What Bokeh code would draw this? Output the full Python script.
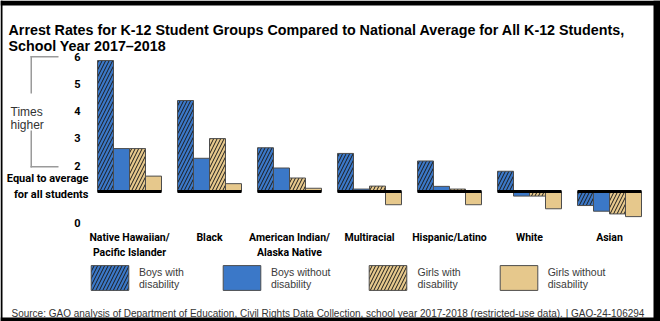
from bokeh.plotting import figure
from bokeh.models import (Range1d, Label, BoxAnnotation, Legend, LegendItem, ColumnDataSource)
from bokeh.core.properties import value
from bokeh.embed import file_html
from bokeh.resources import INLINE

# ---------------- data ----------------
title_lines = ["Arrest Rates for K-12 Student Groups Compared to National Average for All K-12 Students,",
               "School Year 2017\u20132018"]
categories = ["Native Hawaiian/\nPacific Islander", "Black", "American Indian/\nAlaska Native",
              "Multiracial", "Hispanic/Latino", "White", "Asian"]
series_names = ["Boys with\ndisability", "Boys without\ndisability",
                "Girls with\ndisability", "Girls without\ndisability"]
boys_with = [5.85, 4.37, 2.62, 2.41, 2.13, 1.75, 0.48]
boys_without = [2.59, 2.23, 1.87, 1.09, 1.19, 0.83, 0.27]
girls_with = [2.59, 2.96, 1.50, 1.20, 1.09, 0.83, 0.17]
girls_without = [1.57, 1.29, 1.12, 0.51, 0.51, 0.36, 0.07]
baseline = 1.0
y_ticks = [0, 1, 2, 3, 4, 5, 6]
y_tick_labels = ["0", "Equal to average\nfor all students", "2", "3", "4", "5", "6"]
bracket_label = ["Times", "higher"]
source_text = ("Source: GAO analysis of Department of Education, Civil Rights Data Collection, "
               "school year 2017-2018 (restricted-use data).  |  GAO-24-106294")

# ---------------- layout / style ----------------
W, H = 660, 321
PX_PER_UNIT, BASE_PX = 27.0, 191.0
GROUP_PITCH, FIRST_CENTER = 80.0, 129.0
BAR_W = 16.0 / GROUP_PITCH
BLUE, TAN = "#3b78c8", "#e6c88c"
EDGE = "#4d4d4d"
SANS = "Liberation Sans"
BOLDCOND = "Roboto"


def data_x(px):
    return (px - FIRST_CENTER) / GROUP_PITCH


def data_y(py):
    return baseline + (BASE_PX - py) / PX_PER_UNIT


# frame covers the whole canvas so nothing is clipped
x_range = Range1d(data_x(0), data_x(W))
y_range = Range1d(data_y(H), data_y(0))

p = figure(width=W, height=H, x_range=x_range, y_range=y_range,
           x_axis_location=None, y_axis_location=None,
           toolbar_location=None, output_backend="svg",
           min_border=0)
p.grid.visible = False
p.outline_line_color = None
p.background_fill_color = "white"
p.border_fill_color = "white"

n = len(categories)
xs = list(range(n))

# ---------------- y tick labels (through the y scale) ----------------
tick_dx = [-8, 0, -8, -8, -8, -8, -8]
tick_dy = [4, -5, 1, 0, 0, 0, 0]
p.text(x=[data_x(88)] * len(y_ticks), y=y_ticks, text=y_tick_labels,
       x_offset=tick_dx, y_offset=tick_dy,
       text_align="right", text_baseline="middle", text_font=value(BOLDCOND),
       text_font_style="bold", text_font_size="11px", text_line_height=1.2,
       text_color="black")

# ---------------- bars ----------------
series = [
    (boys_with, BLUE, "/"),
    (boys_without, BLUE, None),
    (girls_with, TAN, "/"),
    (girls_without, TAN, None),
]
renderers = []
for j, (vals, color, hatch) in enumerate(series):
    src = ColumnDataSource(dict(x=[i + (j - 1.5) * BAR_W for i in xs],
                                top=vals, bottom=[baseline] * n))
    kw = dict(hatch_pattern=hatch, hatch_color="#1b1b1b", hatch_scale=7, hatch_weight=1) if hatch else {}
    r = p.vbar(x="x", top="top", bottom="bottom", width=BAR_W, source=src,
               fill_color=color, line_color=EDGE, line_width=1, **kw)
    renderers.append(r)

# baseline per group
p.segment(x0=[i - 0.4 for i in xs], x1=[i + 0.4 for i in xs],
          y0=[baseline] * n, y1=[baseline] * n, line_color="black", line_width=3)

# category labels
p.text(x=xs, y=[data_y(230)] * n, text=categories,
       text_align="center", text_baseline="top", text_font=value(BOLDCOND),
       text_font_style="bold", text_font_size="10.5px", text_line_height=1.2,
       text_color="black")

# ---------------- legend ----------------
legend = Legend(items=[LegendItem(label=nm, renderers=[r]) for nm, r in zip(series_names, renderers)],
                orientation="horizontal", location=(86, H - 293),
                glyph_width=47, glyph_height=31, label_height=31, label_standoff=6,
                spacing=34, padding=0, margin=0, border_line_color=None,
                background_fill_alpha=0, label_text_font=SANS,
                label_text_font_size="10.5px", label_text_color="#3a3a3a",
                label_text_line_height=1.2)
p.add_layout(legend)


# ---------------- texts ----------------
def add_label(text, x, y, size, bold=False, color="black", font=SANS):
    p.add_layout(Label(x=x, y=y, x_units="canvas", y_units="canvas", text=text,
                       text_font=font, text_font_size=size,
                       text_font_style="bold" if bold else "normal",
                       text_color=color, text_baseline="alphabetic", text_align="left"))


add_label(title_lines[0], 8, 29, "14.3px", bold=True)
add_label(title_lines[1], 8, 45, "14.3px", bold=True)
add_label(bracket_label[0], 10, 111, "12px", color="#333333")
add_label(bracket_label[1], 10, 124, "12px", color="#333333")
add_label(source_text, 11, 313, "10px", color="#333333")


# ---------------- lines (bracket + picture border) ----------------
def add_box(l, r, t, b, color):
    p.add_layout(BoxAnnotation(left=l, right=r, top=t, bottom=b,
                               left_units="canvas", right_units="canvas",
                               top_units="canvas", bottom_units="canvas",
                               fill_color=color, fill_alpha=1, line_color=None))


GRAY = "#9a9a9a"
add_box(30, 58, 55.5, 57, GRAY)
add_box(30, 31.5, 55.5, 93, GRAY)
add_box(30, 31.5, 130, 167, GRAY)
add_box(30, 58, 165.5, 167, GRAY)

add_box(0, W, 0, 5, "black")
add_box(0, W, 317, H, "black")
add_box(0, 2, 0, H, "black")
add_box(653, W, 0, H, "black")

open("out.html", "w").write(file_html(p, INLINE))
